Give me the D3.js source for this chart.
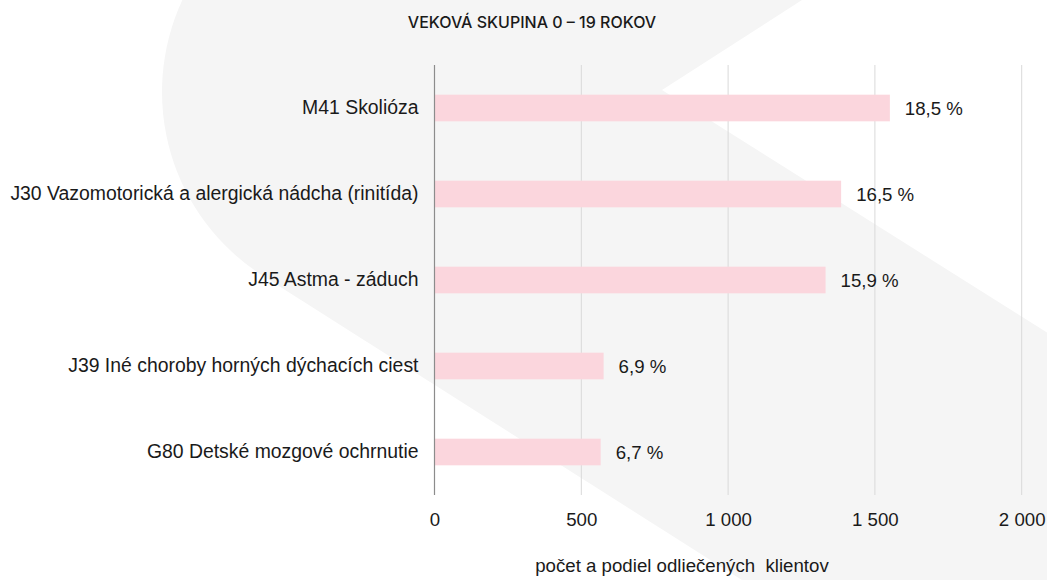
<!DOCTYPE html>
<html>
<head>
<meta charset="utf-8">
<script src="https://cdn.jsdelivr.net/npm/d3@7/dist/d3.min.js"></script>
<style>
  html, body { margin: 0; padding: 0; background: #ffffff; }
  svg { display: block; }
</style>
</head>
<body>
<svg id="chart" width="1047" height="580"></svg>
<script>
// Najčastejšie diagnózy – veková skupina 0–19 rokov
const categories = [
  "M41 Skolióza",
  "J30 Vazomotorická a alergická nádcha (rinitída)",
  "J45 Astma - záduch",
  "J39 Iné choroby horných dýchacích ciest",
  "G80 Detské mozgové ochrnutie"
];
const clients = [1551, 1385, 1332, 576, 566];
const shares = ["18,5 %", "16,5 %", "15,9 %", "6,9 %", "6,7 %"];
const xTicks = [0, 500, 1000, 1500, 2000];
const tickLabels = ["0", "500", "1 000", "1 500", "2 000"];

const titleText = "VEKOVÁ SKUPINA 0 – 19 ROKOV";
const axisTitle = "počet a podiel odliečených  klientov";

const W = 1047, H = 580;
const svg = d3.select("#chart");

// decorative background emblem
(function drawEmblem() {
  const cx = 380, cy = 92, r = 218, m = 0.635;
  const len = Math.hypot(1, m);
  const ux = 1 / len, uy = m / len;
  const nx = -m / len, ny = 1 / len;
  const tx = cx + r * nx, ty = cy + r * ny;
  const xb = tx + (H - ty) / uy * ux;
  const topX = cx - Math.sqrt(r * r - cy * cy);
  const d = [
    `M${topX},0`,
    `L802,0`,
    `L662,90`,
    `L${W},${90 + (W - 662) * 0.63}`,
    `L${W},${H}`,
    `L${xb},${H}`,
    `L${tx},${ty}`,
    `A${r},${r} 0 0 1 ${topX},0`,
    `Z`
  ].join(" ");
  svg.append("path").attr("d", d).attr("fill", "#f5f5f5");
})();

const margin = { left: 434.5, right: W - 1021.7, top: 65, bottom: H - 495 };
const x = d3.scaleLinear().domain([0, 2000]).range([margin.left, W - margin.right]);
const y = d3.scaleBand().domain(categories).range([margin.top, H - margin.bottom]).paddingInner(0.69).paddingOuter(0.345);

const font = "'Liberation Sans', Arial, sans-serif";

// vertical gridlines
svg.append("g")
  .selectAll("line")
  .data(xTicks.filter(d => d !== 0))
  .join("line")
  .attr("x1", d => x(d)).attr("x2", d => x(d))
  .attr("y1", margin.top).attr("y2", H - margin.bottom)
  .attr("stroke", "#d9d9d9").attr("stroke-width", 1);

// bars
svg.append("g")
  .selectAll("rect")
  .data(categories)
  .join("rect")
  .attr("x", x(0))
  .attr("y", d => y(d))
  .attr("width", (d, i) => x(clients[i]) - x(0))
  .attr("height", y.bandwidth())
  .attr("fill", "#fbd6dd");

// zero axis line
svg.append("line")
  .attr("x1", x(0)).attr("x2", x(0))
  .attr("y1", margin.top).attr("y2", H - margin.bottom)
  .attr("stroke", "#8c8c8c").attr("stroke-width", 1.2);

// x tick labels
const xAxis = d3.axisBottom(x).tickValues(xTicks).tickSize(0).tickPadding(0)
  .tickFormat((d, i) => tickLabels[i]);
const gx = svg.append("g").attr("transform", `translate(0, ${H - margin.bottom})`).call(xAxis);
gx.select(".domain").remove();
gx.selectAll("text")
  .attr("y", 24).attr("dy", "0.35em")
  .attr("font-family", font).attr("font-size", 18.67).attr("fill", "#1a1a1a");

// category labels
const yAxis = d3.axisLeft(y).tickSize(0).tickPadding(16);
const gy = svg.append("g").attr("transform", `translate(${x(0)}, 0)`).call(yAxis);
gy.select(".domain").remove();
gy.selectAll("text")
  .attr("font-family", font).attr("font-size", 19.4).attr("fill", "#1a1a1a");

// value labels
svg.append("g")
  .selectAll("text")
  .data(categories)
  .join("text")
  .attr("x", (d, i) => x(clients[i]) + 15)
  .attr("y", d => y(d) + y.bandwidth() / 2)
  .attr("dy", "0.35em")
  .attr("font-family", font).attr("font-size", 18.67).attr("fill", "#1a1a1a")
  .text((d, i) => shares[i]);

// chart title
svg.append("text")
  .attr("x", 532).attr("y", 28)
  .attr("text-anchor", "middle")
  .attr("font-family", "Inter, 'Noto Sans', sans-serif")
  .attr("font-size", 16).attr("font-weight", 500)
  .attr("fill", "#1a1a1a")
  .text(titleText);

// axis title
svg.append("text")
  .attr("x", 682).attr("y", 572)
  .attr("text-anchor", "middle")
  .style("white-space", "pre")
  .attr("font-family", font).attr("font-size", 18.67).attr("fill", "#1a1a1a")
  .text(axisTitle);
</script>
</body>
</html>
